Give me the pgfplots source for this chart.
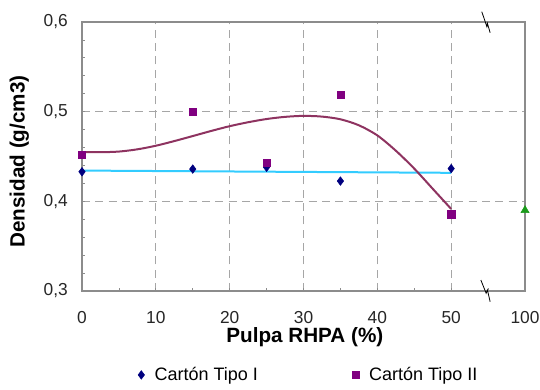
\documentclass[border=0pt]{standalone}
\usepackage{fontspec}
\setmainfont{Liberation Sans}
\usepackage{pgfplots}
\pgfplotsset{compat=1.18}

\definecolor{tipoI}{HTML}{00007F}
\definecolor{tipoII}{HTML}{800080}
\definecolor{curveII}{HTML}{8E3360}
\definecolor{cyanline}{HTML}{33CCFF}
\definecolor{greentri}{HTML}{1A9A1A}
\definecolor{gridgray}{HTML}{A6A6A6}
\definecolor{axgray}{HTML}{8C8C8C}

\begin{document}
\begin{tikzpicture}
\begin{axis}[
  scale only axis, width=332.25pt, height=201.75pt,
  xmin=0, xmax=60, ymin=0.3, ymax=0.6,
  clip=false,
  xtick={0,10,20,30,40,50,60},
  xticklabels={0,10,20,30,40,50,100},
  ytick={0.3,0.4,0.5,0.6},
  yticklabels={{0,3},{0,4},{0,5},{0,6}},
  minor x tick num=1, minor y tick num=4,
  tick pos=left, tick align=inside,
  major tick length=2.5pt, minor tick length=2.5pt,
  axis line style={axgray, line width=0.8pt},
  every tick/.style={axgray, line width=0.6pt},
  grid=major,
  major grid style={gridgray, dash pattern=on 6pt off 4pt, line width=0.8pt},
  xticklabel style={font=\fontsize{13}{15}\selectfont, text=black!85, inner sep=0pt, anchor=center, yshift=-20pt},
  yticklabel style={font=\fontsize{13}{15}\selectfont, text=black!85, inner sep=0pt, anchor=east, xshift=-10.5pt},
  xlabel={Pulpa RHPA (\%)},
  ylabel={Densidad (g/cm3)},
  xlabel style={font=\fontsize{15.5}{18}\selectfont\bfseries, inner sep=0pt, at={(axis description cs:0.503,-0.172)}, anchor=center},
  ylabel style={font=\fontsize{15.5}{18}\selectfont\bfseries, at={(axis description cs:-0.1415,0.481)}, anchor=center},
  legend columns=2,
  legend image code/.code={\draw[#1] plot coordinates {(0pt,0pt)};},
  legend style={draw=none, fill=none, font=\fontsize{13.5}{15}\selectfont,
    at={(axis description cs:0.521,-0.312)}, anchor=center,
    nodes={inner xsep=7.5pt},
    /tikz/every even column/.append style={column sep=63pt}},
]
% fitted lines (no legend)
\addplot[cyanline, line width=1.5pt, forget plot] coordinates {(0,0.4343) (50,0.4318)};
\addplot[curveII, line width=1.5pt, smooth, forget plot] coordinates {
 (0,0.455) (2.5,0.4548) (5,0.4555) (7.5,0.458) (10,0.462) (12.5,0.4672)
 (15,0.4728) (17.5,0.4785) (20,0.4838) (22.5,0.4882) (25,0.4918)
 (27.5,0.4942) (30,0.4953) (32.5,0.4945) (35,0.4915) (37.5,0.4848)
 (40,0.4735) (42.5,0.4565) (45,0.4365) (47.5,0.414) (50,0.3915)};
% data
\addplot[only marks, mark=diamond*, mark size=3.2pt, color=tipoI] coordinates {
 (0,0.433) (15,0.436) (25,0.438) (35,0.4226) (50,0.4365)};
\addlegendentry{Cartón Tipo I}
\addplot[only marks, mark=square*, mark size=2.7pt, color=tipoII] coordinates {
 (0,0.4515) (15,0.5003) (25,0.4426) (35,0.519) (50,0.3856)};
\addlegendentry{Cartón Tipo II}
\addplot[only marks, mark=triangle*, mark size=3.5pt, color=greentri, forget plot] coordinates {(60,0.39)};
% axis break marks
\draw[black, line width=0.6pt] ([shift={(-2.5pt,7.7pt)}]axis cs:54.6,0.6) -- ([shift={(1.3pt,-3.5pt)}]axis cs:54.6,0.6) -- ([shift={(1.7pt,-1pt)}]axis cs:54.6,0.6) -- ([shift={(3.75pt,-8pt)}]axis cs:54.6,0.6);
\draw[black, line width=0.6pt] ([shift={(-3.2pt,8.2pt)}]axis cs:54.6,0.3) -- ([shift={(0.75pt,-1.7pt)}]axis cs:54.6,0.3) -- ([shift={(1.7pt,0.75pt)}]axis cs:54.6,0.3) -- ([shift={(3.75pt,-8pt)}]axis cs:54.6,0.3);
\coordinate (SW) at (rel axis cs:0,0);
\coordinate (NE) at (rel axis cs:1,1);
\end{axis}
\path ([shift={(-61.5pt,-74.25pt)}]SW) rectangle ([shift={(11.25pt,16.5pt)}]NE);
\end{tikzpicture}
\end{document}
